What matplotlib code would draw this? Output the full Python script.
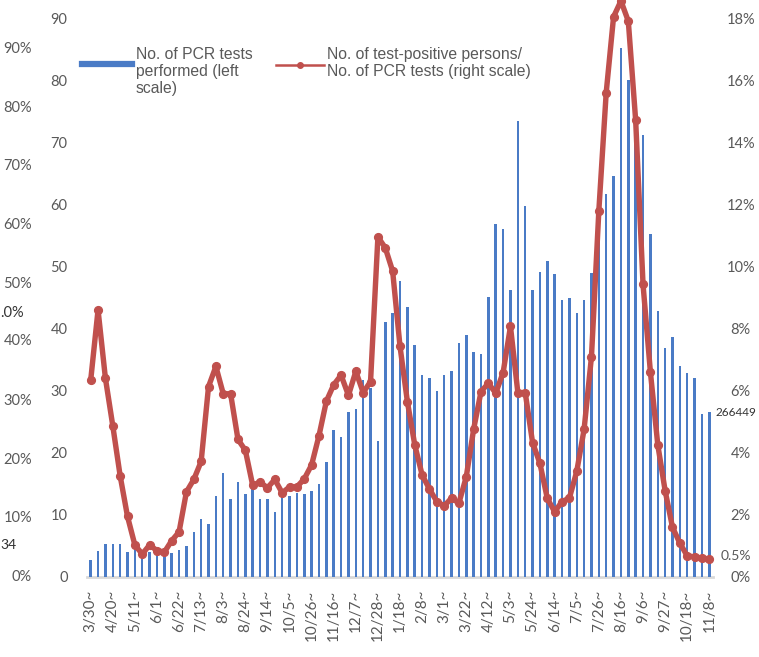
import matplotlib
matplotlib.use("Agg")
import matplotlib.pyplot as plt
from matplotlib.lines import Line2D
import numpy as np

W, H = 759, 657

# weekly data, 3/30 (2020) .. 11/8 (2021)
pcr_tests = [2.8, 4.2, 5.35, 5.35, 5.35, 4.1, 4.9, 3.6, 4.1, 3.9,
             3.9, 3.9, 4.3, 5.0, 7.2, 9.3, 8.6, 13.0, 16.7, 12.6,
             15.3, 13.4, 14.4, 12.6, 12.6, 10.4, 13.0, 13.1, 13.6, 13.4,
             13.8, 14.9, 18.5, 23.7, 22.6, 26.6, 27.0, 31.7, 30.5, 21.9,
             41.1, 42.5, 47.7, 43.5, 37.4, 32.6, 32.1, 30.0, 32.6, 33.2,
             37.7, 38.9, 36.3, 35.9, 45.1, 56.9, 56.1, 46.2, 73.4, 59.8,
             46.2, 49.1, 50.9, 48.8, 44.6, 45.0, 42.5, 44.6, 49.0, 59.0,
             61.6, 64.5, 85.1, 80.0, 74.0, 71.2, 55.3, 42.8, 36.9, 38.7,
             34.0, 32.9, 32.0, 26.3, 26.6]

positive_rate = [6.33, 8.6, 6.4, 4.87, 3.26, 1.95, 1.03, 0.74, 1.03, 0.85,
                 0.8, 1.17, 1.45, 2.74, 3.14, 3.72, 6.13, 6.78, 5.9, 5.9,
                 4.43, 4.08, 2.95, 3.06, 2.87, 3.14, 2.71, 2.9, 2.9, 3.16,
                 3.61, 4.55, 5.66, 6.19, 6.5, 5.85, 6.62, 5.94, 6.29, 10.95,
                 10.6, 9.85, 7.43, 5.65, 4.26, 3.29, 2.83, 2.43, 2.29, 2.54,
                 2.38, 3.23, 4.76, 5.97, 6.24, 5.92, 6.58, 8.07, 5.94, 5.94,
                 4.33, 3.66, 2.53, 2.1, 2.43, 2.54, 3.4, 4.76, 7.1, 11.8,
                 15.6, 18.04, 18.55, 17.9, 14.7, 9.42, 6.6, 4.26, 2.78, 1.6,
                 1.09, 0.68, 0.65, 0.6, 0.57]

tick_labels = ["3/30", "4/20", "5/11", "6/1", "6/22", "7/13", "8/3", "8/24",
               "9/14", "10/5", "10/26", "11/16", "12/7", "12/28", "1/18",
               "2/8", "3/1", "3/22", "4/12", "5/3", "5/24", "6/14", "7/5",
               "7/26", "8/16", "9/6", "9/27", "10/18", "11/8"]

left_ticks = [0, 10, 20, 30, 40, 50, 60, 70, 80, 90]
right_ticks = [0, 2, 4, 6, 8, 10, 12, 14, 16, 18]

# leftover labels of the neighbouring (cropped) chart
ghost_labels = ["90%", "80%", "70%", "60%", "50%", "40%", "30%", "20%", "10%", "0%"]

BLUE = "#4A7BC6"
RED = "#C0504D"
GREY = "#595959"


def px(x, y):
    return x / W, 1 - y / H


def main():
    fig = plt.figure(figsize=(W / 100, H / 100), dpi=100)
    l, r, b, t = 87, 713, 577, 18
    ax = fig.add_axes([l / W, 1 - b / H, (r - l) / W, (b - t) / H])
    ax2 = ax.twinx()

    x = np.arange(len(pcr_tests))
    ax.bar(x, pcr_tests, width=0.34, color=BLUE, zorder=2)
    ax2.plot(x, positive_rate, color=RED, lw=3.9, marker="o", ms=5.6,
             solid_joinstyle="round", zorder=3, clip_on=False)

    ax.set_xlim(-0.5, len(pcr_tests) - 0.5)
    ax.set_ylim(0, 90)
    ax2.set_ylim(0, 18)

    for a in (ax, ax2):
        for s in a.spines.values():
            s.set_visible(False)
    ax.axhline(0, color="#D9D9D9", lw=2, zorder=1, clip_on=False)

    ax.set_xticks(np.arange(0, len(pcr_tests), 3))
    ax.set_xticklabels([s + "~" for s in tick_labels], rotation=90,
                       fontfamily="Lato", fontsize=11, color=GREY)
    ax.tick_params(axis="x", length=0, pad=9)

    ax.set_yticks(left_ticks)
    ax.set_yticklabels([str(v) for v in left_ticks], fontfamily="Lato",
                       fontsize=10.5, color=GREY)
    ax.tick_params(axis="y", length=0, pad=14)

    ax2.set_yticks(right_ticks)
    ax2.set_yticklabels([f"{v}%" for v in right_ticks], fontfamily="Lato",
                        fontsize=10.5, color=GREY, ha="center")
    ax2.tick_params(axis="y", length=0, pad=20)

    # ghost axis from the neighbouring chart
    for i, lab in enumerate(ghost_labels):
        gy = 49.3 + i * 58.6
        if lab == "40%":
            gy = 341
        fig.text(*px(32, gy), lab, ha="right", va="center", fontfamily="Lato",
                 fontsize=10.5, color=GREY)
    fig.text(*px(0, 313), ".0%", ha="left", va="center", fontfamily="Lato",
             fontsize=10.5, color="#333333")
    fig.text(*px(0, 545), "34", ha="left", va="center", fontfamily="Lato",
             fontsize=10, color="#333333")

    fig.text(*px(716, 413), "266449", ha="left", va="center", fontfamily="Lato",
             fontsize=8.5, color="#333333")
    fig.text(*px(721, 556), "0.5%", ha="left", va="center", fontfamily="Lato",
             fontsize=10, color=GREY)

    # legend
    fig.add_artist(Line2D([82 / W, 132 / W], [1 - 64 / H] * 2, color=BLUE,
                          lw=4.5, transform=fig.transFigure))
    fig.text(*px(136, 47), "No. of PCR tests\nperformed (left\nscale)",
             ha="left", va="top", fontfamily="Liberation Sans", fontsize=11.3,
             color=GREY, linespacing=1.17)
    fig.add_artist(Line2D([276 / W, 324 / W], [1 - 65 / H] * 2, color=RED,
                          lw=1.8, transform=fig.transFigure))
    fig.add_artist(Line2D([300 / W], [1 - 65 / H], color=RED, marker="o",
                          ms=4, transform=fig.transFigure))
    fig.text(*px(327, 47), "No. of test-positive persons/\nNo. of PCR tests (right scale)",
             ha="left", va="top", fontfamily="Liberation Sans", fontsize=11.3,
             color=GREY, linespacing=1.17)

    fig.savefig("out.png", dpi=100)


if __name__ == "__main__":
    main()
